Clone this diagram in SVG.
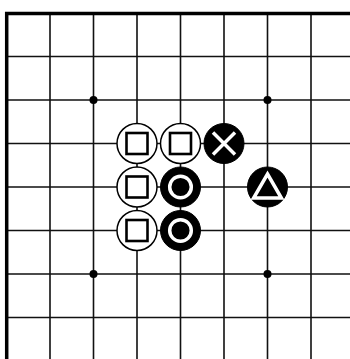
<svg xmlns="http://www.w3.org/2000/svg" width="350" height="359" viewBox="0 0 350 359">
<style>
.g{stroke:#111;stroke-width:1.6;fill:none}
.b{stroke:#000;stroke-width:3.5;fill:none}
.ws{fill:#fff;stroke:#000;stroke-width:1.5}
.bs{fill:#000;stroke:#000;stroke-width:1}
.sq{fill:none;stroke:#000;stroke-width:2.6}
.wm{fill:none;stroke:#fff;stroke-width:3.5}
.star{fill:#000}
</style>
<rect width="350" height="359" fill="#fff"/>
<g id="grid">
<path class="g" d="M7 56.5H350M7 100H350M7 143.5H350M7 187H350M7 230.5H350M7 274H350M7 317.5H350"/>
<path class="g" d="M50 13V359M93.5 13V359M137 13V359M180.5 13V359M224 13V359M267.5 13V359M311 13V359"/>
<path class="b" d="M6.7 359V13.5H350"/>
</g>
<g id="stars">
<circle class="star" cx="93.5" cy="100" r="4"/>
<circle class="star" cx="267.5" cy="100" r="4"/>
<circle class="star" cx="93.5" cy="274" r="4"/>
<circle class="star" cx="267.5" cy="274" r="4"/>
</g>
<g id="w1"><circle class="ws" cx="137" cy="143.5" r="20"/><rect class="sq" x="126.5" y="133" width="21" height="21"/></g>
<g id="w2"><circle class="ws" cx="180.5" cy="143.5" r="20"/><rect class="sq" x="170" y="133" width="21" height="21"/></g>
<g id="w3"><circle class="ws" cx="137" cy="187" r="20"/><rect class="sq" x="126.5" y="176.5" width="21" height="21"/></g>
<g id="w4"><circle class="ws" cx="137" cy="230.5" r="20"/><rect class="sq" x="126.5" y="220" width="21" height="21"/></g>
<g id="bx"><circle class="bs" cx="224" cy="143.5" r="20"/><path class="wm" d="M213 132.5L235 154.5M235 132.5L213 154.5"/></g>
<g id="bc1"><circle class="bs" cx="180.5" cy="187" r="20"/><circle class="wm" cx="180.5" cy="187" r="10.8"/></g>
<g id="bc2"><circle class="bs" cx="180.5" cy="230.5" r="20"/><circle class="wm" cx="180.5" cy="230.5" r="10.8"/></g>
<g id="bt"><circle class="bs" cx="267.5" cy="187" r="20"/><polygon class="wm" stroke-width="3.3" points="267.5,174 281.4,198 253.6,198"/></g>
</svg>
